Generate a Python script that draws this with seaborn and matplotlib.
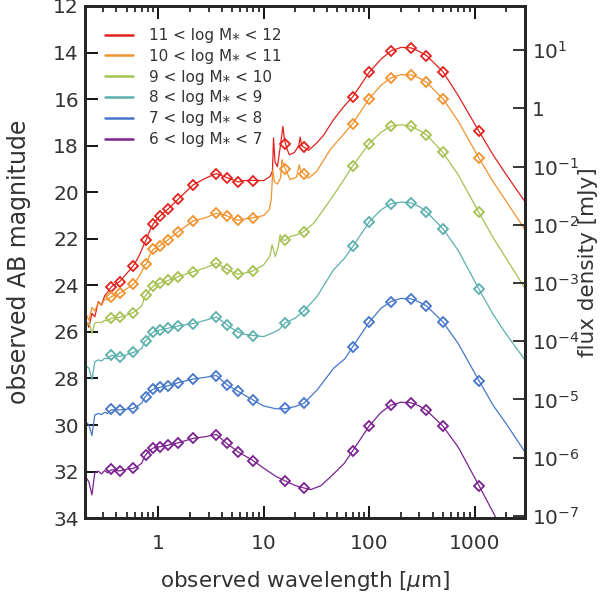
import matplotlib
matplotlib.use("Agg")
import matplotlib.pyplot as plt
import seaborn as sns
import numpy as np

# photometric bands (observed wavelength, micron)
band_lam = [0.36, 0.43, 0.58, 0.77, 0.9, 1.03, 1.24, 1.55, 2.15, 3.55, 4.45, 5.7, 7.9,
            16, 24, 70, 100, 160, 250, 350, 500, 1100]

phot_red = [24.05, 23.84, 23.16, 22.04, 21.35, 21.04, 20.72, 20.29, 19.68, 19.22, 19.39, 19.58, 19.5,
            17.91, 18.06, 15.9, 14.85, 13.94, 13.8, 14.13, 14.82, 17.38]
phot_orange = [24.48, 24.34, 23.95, 23.09, 22.44, 22.3, 22.04, 21.69, 21.23, 20.9, 21.01, 21.21, 21.11,
               18.99, 19.2, 17.05, 15.98, 15.09, 14.96, 15.28, 15.98, 18.53]
phot_green = [25.41, 25.37, 25.17, 24.41, 24.02, 23.9, 23.79, 23.62, 23.41, 23.05, 23.3, 23.52, 23.38,
              22.07, 21.69, 18.86, 17.91, 17.17, 17.17, 17.53, 18.29, 20.87]
phot_teal = [26.99, 27.06, 26.87, 26.37, 25.99, 25.91, 25.84, 25.74, 25.66, 25.37, 25.7, 26.03, 26.16,
             25.6, 25.08, 22.33, 21.26, 20.5, 20.46, 20.84, 21.56, 24.16]
phot_blue = [29.32, 29.35, 29.28, 28.78, 28.46, 28.38, 28.31, 28.18, 28.02, 27.89, 28.28, 28.52, 28.92,
             29.28, 29.07, 26.66, 25.58, 24.7, 24.58, 24.88, 25.57, 28.09]
phot_purple = [31.89, 31.97, 31.86, 31.29, 30.98, 30.93, 30.86, 30.76, 30.57, 30.44, 30.79, 31.15, 31.54,
               32.4, 32.7, 31.1, 30.04, 29.15, 29.04, 29.37, 30.04, 32.6]

# model SEDs: stellar part (shared grid)
lam_opt = [0.2, 0.21, 0.22, 0.235, 0.25, 0.27, 0.29, 0.31, 0.33, 0.36, 0.43, 0.5, 0.58, 0.65, 0.7,
           0.74, 0.77, 0.83, 0.9, 1.03, 1.24, 1.55, 2.15, 2.8, 3.55, 4.45, 5.0, 5.7, 6.5, 7.9]
red_opt = [26.35, 25.6, 25.8, 25.2, 25.35, 24.7, 24.85, 24.45, 24.3, 24.05, 23.84, 23.5, 23.16, 22.78, 22.45,
           22.2, 22.04, 21.65, 21.35, 21.04, 20.72, 20.29, 19.68, 19.4, 19.2, 19.37, 19.45, 19.56, 19.5, 19.49]
orange_opt = [25.9, 25.3, 25.5, 24.95, 25.1, 24.75, 24.85, 24.6, 24.62, 24.48, 24.34, 24.15, 23.95, 23.65, 23.4,
              23.12, 23.09, 22.7, 22.44, 22.3, 22.04, 21.69, 21.23, 21.1, 20.9, 21.01, 21.1, 21.21, 21.15, 21.1]
green_opt = [25.65, 25.75, 25.6, 26.05, 25.62, 25.58, 25.6, 25.5, 25.52, 25.41, 25.37, 25.28, 25.17, 25.0, 24.88,
             24.5, 24.41, 24.2, 24.03, 23.9, 23.79, 23.62, 23.41, 23.25, 23.05, 23.3, 23.42, 23.52, 23.48, 23.38]
teal_opt = [27.55, 27.48, 27.55, 28.05, 27.28, 27.2, 27.25, 27.13, 27.15, 27.0, 27.05, 26.98, 26.88, 26.8, 26.7,
            26.42, 26.35, 26.15, 26.0, 25.92, 25.84, 25.74, 25.64, 25.5, 25.36, 25.68, 25.85, 26.0, 26.1, 26.15]
blue_opt = [29.95, 29.9, 30.0, 30.45, 29.57, 29.5, 29.55, 29.45, 29.5, 29.34, 29.35, 29.32, 29.28, 29.15, 29.05,
            28.82, 28.74, 28.55, 28.46, 28.38, 28.31, 28.18, 28.02, 27.95, 27.87, 28.26, 28.4, 28.55, 28.7, 28.92]
purple_opt = [32.55, 32.3, 32.45, 33.0, 32.05, 31.98, 32.1, 31.95, 32.05, 31.92, 31.97, 31.9, 31.86, 31.75, 31.62,
              31.35, 31.25, 31.08, 30.98, 30.93, 30.86, 30.76, 30.57, 30.5, 30.4, 30.79, 30.95, 31.15, 31.3, 31.52]

# mid-IR part (PAH features differ per bin)
red_mir_lam = [10, 11.5, 12.1, 12.4, 12.8, 13.5, 14.1, 14.8, 15.2, 15.7, 16.5, 17.5, 19.5, 21.5, 22.2, 22.9,
               24, 26.7, 31.9, 37, 46, 58]
red_mir = [19.5, 19.32, 19.1, 17.67, 18.7, 18.9, 18.3, 17.6, 17.17, 17.7, 18.1, 18.39, 18.3, 18.0, 17.63, 18.0,
           18.06, 18.2, 17.88, 17.55, 16.88, 16.3]
orange_mir_lam = [10, 11.3, 11.8, 12.2, 12.6, 13.5, 14.4, 14.9, 15.5, 16, 17.8, 20.5, 21.7, 22.5, 24, 26.7,
                  31.9, 42.7, 55]
orange_mir = [21.0, 20.75, 20.3, 19.03, 19.55, 19.65, 19.4, 18.6, 18.85, 18.99, 19.46, 19.35, 18.82, 19.1, 19.2,
              19.39, 19.1, 18.17, 17.6]
green_mir_lam = [10, 11.5, 12.0, 12.9, 13.8, 14.3, 15.2, 16, 17.8, 20, 24, 30, 43, 55]
green_mir = [23.12, 22.72, 22.26, 22.76, 22.3, 21.83, 22.05, 22.07, 21.9, 21.85, 21.69, 21.32, 20.32, 19.6]
teal_mir_lam = [10, 12.3, 14, 16, 20, 24, 32, 46, 58]
teal_mir = [26.2, 26.03, 25.9, 25.62, 25.4, 25.1, 24.48, 23.33, 22.85]
blue_mir_lam = [10, 13, 16, 20, 24, 32, 46, 59]
blue_mir = [29.18, 29.3, 29.3, 29.2, 29.07, 28.5, 27.56, 27.15]
purple_mir_lam = [10, 13, 16, 20, 24, 28, 35, 46, 58]
purple_mir = [31.85, 32.2, 32.4, 32.6, 32.7, 32.77, 32.6, 32.1, 31.65]

# far-IR dust bump (shared grid)
lam_fir = [70, 100, 130, 160, 200, 250, 300, 350, 500, 700, 1100, 1500, 2000, 3000]
red_fir = [15.9, 14.85, 14.28, 13.94, 13.78, 13.8, 13.96, 14.13, 14.82, 15.85, 17.38, 18.4, 19.25, 20.4]
orange_fir = [17.05, 15.98, 15.4, 15.09, 14.95, 14.96, 15.1, 15.28, 15.98, 16.95, 18.53, 19.55, 20.4, 21.6]
green_fir = [18.86, 17.91, 17.42, 17.17, 17.1, 17.17, 17.35, 17.53, 18.29, 19.25, 20.87, 21.95, 22.85, 24.12]
teal_fir = [22.33, 21.28, 20.75, 20.5, 20.42, 20.46, 20.62, 20.84, 21.56, 22.5, 24.16, 25.25, 26.1, 27.2]
blue_fir = [26.63, 25.58, 24.98, 24.7, 24.56, 24.58, 24.72, 24.88, 25.57, 26.5, 28.09, 29.15, 29.95, 31.15]
purple_fir = [31.1, 30.04, 29.45, 29.15, 29.02, 29.04, 29.18, 29.37, 30.04, 30.95, 32.6, 33.75, 34.9, 36.4]

labels = ["11 < log M\u204e < 12", "10 < log M\u204e < 11", "9 < log M\u204e < 10",
          "8 < log M\u204e < 9", "7 < log M\u204e < 8", "6 < log M\u204e < 7"]
colors = ["#e3211c", "#f0922d", "#a5c152", "#5bb0ac", "#4677c8", "#7b2290"]

series = [
    (red_opt, red_mir_lam, red_mir, red_fir, phot_red),
    (orange_opt, orange_mir_lam, orange_mir, orange_fir, phot_orange),
    (green_opt, green_mir_lam, green_mir, green_fir, phot_green),
    (teal_opt, teal_mir_lam, teal_mir, teal_fir, phot_teal),
    (blue_opt, blue_mir_lam, blue_mir, blue_fir, phot_blue),
    (purple_opt, purple_mir_lam, purple_mir, purple_fir, phot_purple),
]

sns.set_style("ticks")
plt.rcParams["font.family"] = ["DejaVu Sans"]
text_color = "#333333"

fig = plt.figure(figsize=(6.04, 5.97), dpi=100)
ax = fig.add_axes([0.140, 0.132, 0.729, 0.858])

handles = []
for (opt, mlam, mmag, fir, phot), label, color in zip(series, labels, colors):
    lam = lam_opt + mlam + lam_fir
    mag = opt + mmag + fir
    sns.lineplot(x=lam, y=mag, ax=ax, color=color, lw=0.9, estimator=None, sort=False)
    ax.plot(band_lam, phot, ls="none", marker="D", ms=5, mfc="none", mec=color, mew=1.3)
    handles.append(plt.Line2D([], [], color=color, lw=1.8, label=label))

ax.set_xscale("log")
ax.set_xlim(0.2, 3000)
ax.set_ylim(34, 12)
ax.set_xticks([1, 10, 100, 1000])
ax.set_xticklabels(["1", "10", "100", "1000"])
ax.set_yticks(np.arange(12, 35, 2))
ax.tick_params(which="both", direction="in", top=True, right=False, colors="black",
               labelcolor=text_color, labelsize=14.5)
ax.tick_params(which="major", length=9, width=1.3)
ax.tick_params(which="minor", length=4.5, width=1.1)
ax.tick_params(axis="x", which="major", pad=11.5)
ax.tick_params(axis="y", which="major", pad=4)
for sp in ax.spines.values():
    sp.set_linewidth(2)
ax.set_xlabel(r"observed wavelength [$\mu$m]", fontsize=15.5, color=text_color)
ax.set_ylabel("observed AB magnitude", fontsize=17, color=text_color)
ax.xaxis.set_label_coords(0.5, -0.1)
ax.yaxis.set_label_coords(-0.121, 0.5)

# flux density axis: 1 mJy at AB = 16.4
ax2 = ax.twinx()
ax2.set_yscale("log")
ax2.set_ylim(10 ** (-0.4 * (34 - 16.4)), 10 ** (-0.4 * (12 - 16.4)))
flux_ticks = [10.0 ** k for k in range(-7, 2)]
flux_labels = [r"$10^{%d}$" % k if k != 0 else "1" for k in range(-7, 2)]
ax2.set_yticks(flux_ticks)
ax2.set_yticklabels(flux_labels)
ax2.yaxis.set_minor_locator(matplotlib.ticker.NullLocator())
ax2.tick_params(which="major", direction="in", length=9, width=1.3, labelsize=14.5,
                labelcolor=text_color, pad=5)
for sp in ax2.spines.values():
    sp.set_linewidth(2)
ax2.set_ylabel("flux density [mJy]", fontsize=15.5, color=text_color)
ax2.yaxis.set_label_coords(1.12, 0.5)

ax.legend(handles=handles, loc="upper left", bbox_to_anchor=(0.033, 0.969),
          borderaxespad=0, frameon=False, fontsize=11, handlelength=1.85,
          handletextpad=1.0, labelspacing=0.38, labelcolor=text_color)

fig.savefig("out.png", dpi=100)
